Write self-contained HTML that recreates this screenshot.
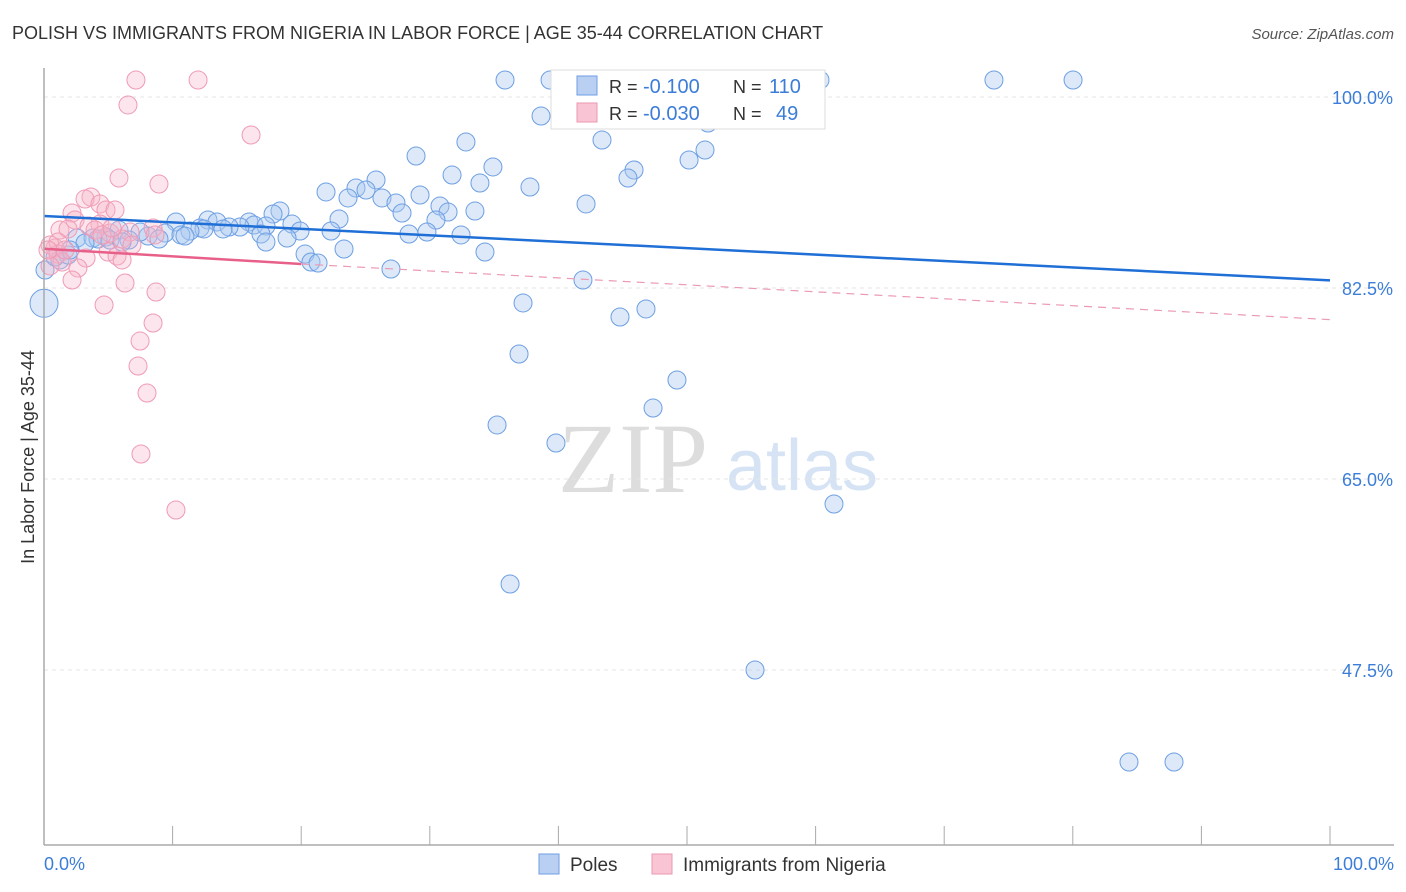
<!DOCTYPE html>
<html><head><meta charset="utf-8"><style>
body{margin:0;background:#fff;font-family:"Liberation Sans",sans-serif}
#wrap{position:relative;width:1406px;height:892px;overflow:hidden}
</style></head><body><div id="wrap">
<svg id="svg" width="1406" height="892" xmlns="http://www.w3.org/2000/svg">
<text x="12" y="39" font-size="18" fill="#333">POLISH VS IMMIGRANTS FROM NIGERIA IN LABOR FORCE | AGE 35-44 CORRELATION CHART</text>
<text x="1394" y="39" font-size="15" fill="#555" font-style="italic" text-anchor="end">Source: ZipAtlas.com</text>
<text x="34" y="457" font-size="18" fill="#333" transform="rotate(-90 34 457)" text-anchor="middle">In Labor Force | Age 35-44</text>
<text x="633" y="492" font-size="100" fill="#ddd" font-family="Liberation Serif,serif" text-anchor="middle">ZIP</text>
<text x="802" y="490" font-size="72" fill="#d5e3f5" text-anchor="middle">atlas</text>
<g id="grid"></g><g id="pts"></g><g id="lines"></g>
<line x1="44" y1="68" x2="44" y2="845" stroke="#aaa" stroke-width="1.5"/>
<line x1="44" y1="845" x2="1394" y2="845" stroke="#aaa" stroke-width="1.5"/>
<g id="ticks"></g>
<text x="44" y="870" font-size="18" fill="#3b7dd8">0.0%</text>
<text x="1394" y="870" font-size="18" fill="#3b7dd8" text-anchor="end">100.0%</text>
<g>
<rect x="551" y="70" width="274" height="59" fill="#fff" stroke="#ddd"/>
<rect x="577" y="76" width="20" height="19" fill="#b9d0f3" stroke="#6f9ee6"/>
<rect x="577" y="103" width="20" height="19" fill="#f9c5d4" stroke="#ee97b1"/>
<text x="609" y="93" font-size="18" fill="#333">R =</text>
<text x="643" y="93" font-size="20" fill="#3b7dd8">-0.100</text>
<text x="733" y="93" font-size="18" fill="#333">N =</text>
<text x="769" y="93" font-size="20" fill="#3b7dd8">110</text>
<text x="609" y="120" font-size="18" fill="#333">R =</text>
<text x="643" y="120" font-size="20" fill="#3b7dd8">-0.030</text>
<text x="733" y="120" font-size="18" fill="#333">N =</text>
<text x="776" y="120" font-size="20" fill="#3b7dd8">49</text>
</g>
<g>
<rect x="539" y="854" width="20" height="20" fill="#b9d0f3" stroke="#6f9ee6"/>
<text x="570" y="871" font-size="19" fill="#333">Poles</text>
<rect x="652" y="854" width="20" height="20" fill="#f9c5d4" stroke="#ee97b1"/>
<text x="683" y="871" font-size="19" fill="#333">Immigrants from Nigeria</text>
</g>
</svg></div>
<script>
const yTicks=[100,82.5,65,47.5];
const yTickLabels=["100.0%","82.5%","65.0%","47.5%"];
const polesPx=[[505,80],[550,80],[562,80],[638,80],[728,80],[741,80],[764,80],[820,80],[994,80],[1073,80],[541,116],[708,123],[602,140],[466,142],[416,156],[705,150],[493,167],[689,160],[452,175],[634,170],[628,178],[376,180],[480,183],[530,187],[326,192],[356,188],[366,190],[348,198],[382,198],[420,195],[396,203],[440,206],[586,204],[448,212],[475,211],[402,213],[280,211],[273,214],[436,220],[339,219],[176,222],[208,220],[217,222],[249,222],[254,225],[266,226],[292,224],[240,227],[229,227],[223,229],[200,228],[204,229],[190,231],[165,233],[148,236],[300,231],[331,231],[427,232],[409,234],[461,235],[119,230],[140,232],[181,235],[261,234],[287,238],[185,236],[159,239],[129,240],[106,237],[77,238],[93,238],[98,239],[110,240],[122,242],[266,242],[344,249],[485,252],[305,254],[311,262],[318,263],[391,269],[583,280],[523,303],[620,317],[646,309],[519,354],[677,380],[653,408],[497,425],[556,443],[834,504],[510,584],[755,670],[1129,762],[1174,762],[45,270],[60,260],[68,255],[85,243],[70,250],[55,257]];
const nigeriaPx=[[136,80],[198,80],[128,105],[251,135],[119,178],[159,184],[91,197],[85,199],[100,204],[106,210],[115,210],[72,213],[75,220],[60,230],[68,229],[100,224],[89,226],[110,233],[130,232],[153,228],[155,235],[122,239],[132,245],[108,252],[117,256],[122,260],[86,258],[55,248],[50,245],[58,254],[62,262],[50,266],[78,268],[72,280],[125,283],[156,292],[104,305],[153,323],[140,341],[138,366],[147,393],[141,454],[176,510],[58,242],[48,250],[65,250],[95,230],[102,235],[112,228]];
const toData=p=>[+((p[0]-44)/12.86).toFixed(2),+(100-(p[1]-97)/10.914).toFixed(2)];
const polesX=polesPx.map(p=>toData(p)[0]), polesY=polesPx.map(p=>toData(p)[1]);
const nigX=nigeriaPx.map(p=>toData(p)[0]), nigY=nigeriaPx.map(p=>toData(p)[1]);
const bigPoleX=[0], bigPoleY=[81.1];
const polesTrend=[[0,89.1],[100,83.2]];
const nigTrend=[[0,86.1],[20,84.7],[100,79.6]];
const sx=v=>44+v*12.86, sy=v=>97+(100-v)*10.914;
const NS="http://www.w3.org/2000/svg";
const mk=(t,a,par)=>{const e=document.createElementNS(NS,t);for(const k in a)e.setAttribute(k,a[k]);document.getElementById(par).appendChild(e);return e;};
yTicks.forEach((v,i)=>{
 const l=mk('line',{x1:44,x2:1394,y1:sy(v),y2:sy(v),stroke:'#e4e4e4','stroke-dasharray':'4,4'},'grid');
 
 
 const t=mk('text',{x:1393,y:sy(v)+7,'font-size':18,fill:'#3b7dd8','text-anchor':'end'},'grid');
 t.textContent=yTickLabels[i];
 
 
});
for(let i=0;i<=10;i++){
 const l=mk('line',{x1:sx(i*10),x2:sx(i*10),y1:826,y2:845,stroke:'#aaa'},'ticks');
 
 
}
polesX.forEach((x,i)=>{
 const c=mk('circle',{cx:sx(x),cy:sy(polesY[i]),r:9,fill:'rgba(170,200,240,0.4)',stroke:'#6d9fe3','stroke-width':1},'pts');
 
 
});
bigPoleX.forEach((x,i)=>{
 const c=mk('circle',{cx:sx(x),cy:sy(bigPoleY[i]),r:14,fill:'rgba(170,200,240,0.4)',stroke:'#6d9fe3','stroke-width':1},'pts');
 
 
});
nigX.forEach((x,i)=>{
 const c=mk('circle',{cx:sx(x),cy:sy(nigY[i]),r:9,fill:'rgba(247,180,200,0.35)',stroke:'#ef9bb5','stroke-width':1},'pts');
 
 
});
let l=mk('line',{x1:sx(polesTrend[0][0]),y1:sy(polesTrend[0][1]),x2:sx(polesTrend[1][0]),y2:sy(polesTrend[1][1]),stroke:'#1f6fd6','stroke-width':2.5},'lines');


l=mk('line',{x1:sx(nigTrend[0][0]),y1:sy(nigTrend[0][1]),x2:sx(nigTrend[1][0]),y2:sy(nigTrend[1][1]),stroke:'#e8608a','stroke-width':2.5},'lines');


l=mk('line',{x1:sx(nigTrend[1][0]),y1:sy(nigTrend[1][1]),x2:sx(nigTrend[2][0]),y2:sy(nigTrend[2][1]),stroke:'#eb9ab3','stroke-width':1.2,'stroke-dasharray':'8,6'},'lines');


</script></body></html>
